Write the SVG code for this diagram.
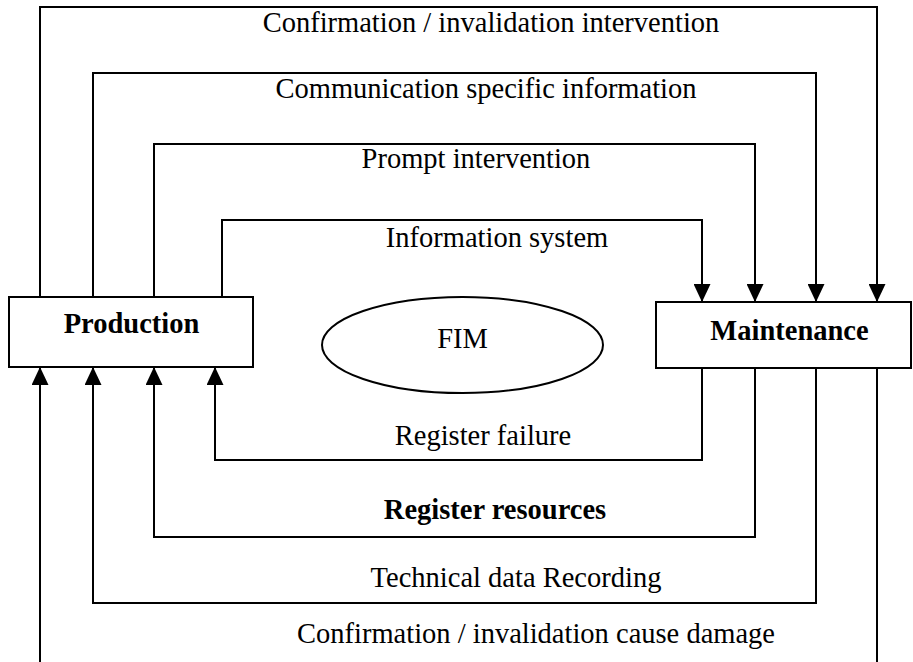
<svg xmlns="http://www.w3.org/2000/svg" width="913" height="662" viewBox="0 0 913 662">
<style>
  text { font-family: "Liberation Serif", "Times New Roman", serif; font-size: 28.5px; fill: #000; text-anchor: middle; }
  .b { font-weight: bold; }
  .node { fill: #fff; stroke: #000; stroke-width: 2; }
  .conn path { fill: none; stroke: #000; stroke-width: 2; }
</style>
<defs>
  <marker id="arr" markerUnits="userSpaceOnUse" markerWidth="18" markerHeight="17" viewBox="0 0 18 17" refX="18" refY="8.5" orient="auto">
    <path d="M0,0 L18,8.5 L0,17 z" fill="#000"/>
  </marker>
</defs>
<rect width="913" height="662" fill="#fff"/>
<g id="connectors" class="conn">
  <path d="M40,297 V7 H877 V302" marker-end="url(#arr)"/>
  <path d="M93,297 V73 H816 V302" marker-end="url(#arr)"/>
  <path d="M154,297 V144 H755 V302" marker-end="url(#arr)"/>
  <path d="M222,297 V220 H702 V302" marker-end="url(#arr)"/>
  <path d="M702,368 V460 H215 V367" marker-end="url(#arr)"/>
  <path d="M755,368 V537 H154 V367" marker-end="url(#arr)"/>
  <path d="M816,368 V603 H93 V367" marker-end="url(#arr)"/>
  <path d="M40,664 V367" marker-end="url(#arr)"/>
  <path d="M877,368 V664"/>
</g>
<g id="labels">
  <text x="491" y="32">Confirmation / invalidation intervention</text>
  <text x="486" y="98">Communication specific information</text>
  <text x="476" y="168">Prompt intervention</text>
  <text x="497" y="247">Information system</text>
  <text x="483" y="445">Register failure</text>
  <text x="495" y="519" class="b">Register resources</text>
  <text x="516" y="587">Technical data Recording</text>
  <text x="536" y="643">Confirmation / invalidation cause damage</text>
</g>
<g id="production">
  <rect class="node" x="9" y="297" width="244" height="70"/>
  <text x="131.5" y="333" class="b">Production</text>
</g>
<g id="maintenance">
  <rect class="node" x="656" y="302" width="255" height="66"/>
  <text x="789.5" y="340" class="b">Maintenance</text>
</g>
<g id="fim">
  <ellipse class="node" cx="462.5" cy="345" rx="140.5" ry="48"/>
  <text x="462.5" y="348">FIM</text>
</g>
</svg>
